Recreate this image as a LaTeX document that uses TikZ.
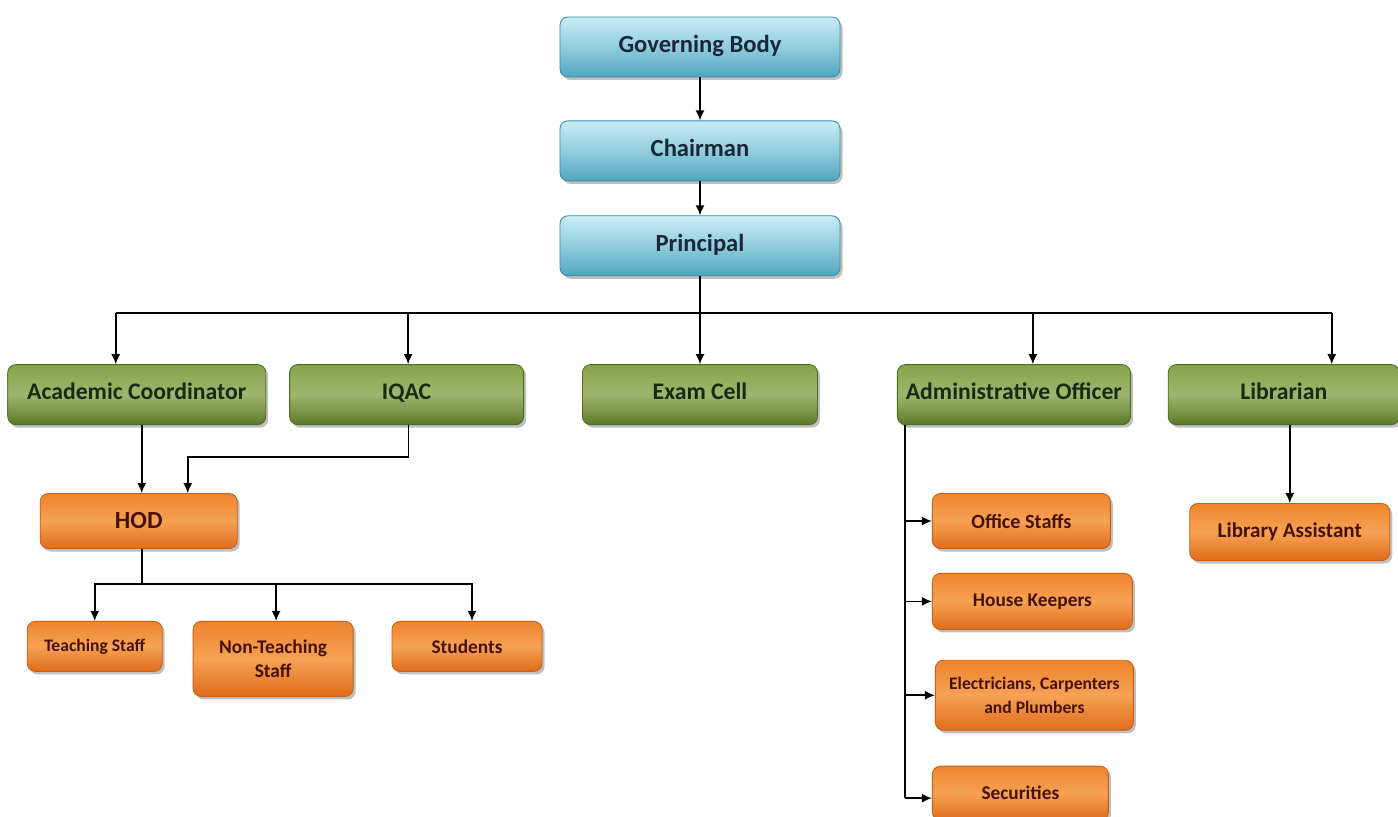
\documentclass[tikz,border=0pt]{standalone}
\usepackage{fontspec}
\setmainfont{Carlito}
\usetikzlibrary{positioning,arrows.meta,shadows}
\definecolor{bluetop}{RGB}{200,236,244}
\definecolor{bluebot}{RGB}{78,166,192}
\definecolor{blueline}{RGB}{60,140,168}
\definecolor{greentop}{RGB}{134,164,74}
\definecolor{greenbot}{RGB}{92,122,40}
\definecolor{greenline}{RGB}{80,108,36}
\definecolor{orangetop}{RGB}{238,132,46}
\definecolor{orangemid}{RGB}{246,162,84}
\definecolor{orangebot}{RGB}{222,108,26}
\definecolor{orangeline}{RGB}{200,96,24}
\definecolor{navytext}{RGB}{24,40,56}
\definecolor{greentext}{RGB}{28,40,16}
\definecolor{browntext}{RGB}{72,16,4}

\begin{document}
\begin{tikzpicture}[
    box/.style={rounded corners=0.16cm,inner sep=0pt,align=center,line width=0.5pt,
      drop shadow={shadow xshift=0.05cm,shadow yshift=-0.06cm,opacity=0.5}},
    bluebox/.style={box,draw=blueline,top color=bluetop,bottom color=bluebot,middle color=bluetop!55!bluebot,
      text=navytext,font=\fontsize{14}{16}\selectfont\bfseries,minimum width=5.6cm,minimum height=1.2cm,
      text height=9.5pt,text depth=3.5pt},
    greenbox/.style={box,draw=greenline,top color=greentop,bottom color=greenbot,middle color=greentop!80!white,
      text=greentext,font=\fontsize{13.5}{15}\selectfont\bfseries,minimum height=1.2cm,
      text height=9.5pt,text depth=3.5pt},
    orangebox/.style={box,draw=orangeline,top color=orangetop,bottom color=orangebot,middle color=orangemid,
      text=browntext,font=\fontsize{11}{14}\selectfont\bfseries},
    link/.style={-{Latex[length=2mm,width=1.8mm]},line width=0.9pt},
    wire/.style={line width=0.9pt}]
  \useasboundingbox (0,0) rectangle (27.96,-16.34);

  % top of the chart
  \node[bluebox] (govbody) at (14,-0.94) {Governing Body};
  \node[bluebox,below=0.86cm of govbody] (chairman) {Chairman};
  \node[bluebox,below=0.68cm of chairman] (principal) {Principal};

  % second row
  \node[greenbox,minimum width=4.7cm,below=1.76cm of principal] (exam) {Exam Cell};
  \node[greenbox,minimum width=4.68cm,left=1.16cm of exam] (iqac) {IQAC};
  \node[greenbox,minimum width=5.16cm,left=0.46cm of iqac] (acad) {Academic Coordinator};
  \node[greenbox,minimum width=4.66cm,right=1.58cm of exam] (admin) {Administrative Officer};
  \node[greenbox,minimum width=4.62cm,right=0.74cm of admin] (libr) {Librarian};

  % academic side
  \node[orangebox,font=\fontsize{14}{16}\selectfont\bfseries,minimum width=3.94cm,minimum height=1.1cm,
    below=1.36cm of acad,xshift=0.04cm] (hod) {HOD};
  \node[orangebox,font=\fontsize{10}{12}\selectfont\bfseries,minimum width=2.7cm,minimum height=1cm,
    below=1.44cm of hod,xshift=-0.88cm] (teach) {Teaching Staff};
  \node[orangebox,minimum width=3.2cm,minimum height=1.5cm,
    right=0.6cm of teach.north east,anchor=north west] (nonteach) {Non-Teaching\\Staff};
  \node[orangebox,minimum width=3cm,minimum height=1cm,
    right=0.76cm of nonteach.north east,anchor=north west] (students) {Students};

  % administrative side
  \node[orangebox,font=\fontsize{11.5}{14}\selectfont\bfseries,minimum width=3.56cm,minimum height=1.1cm,
    below=1.36cm of admin.south west,anchor=north west,xshift=0.7cm] (office) {Office Staffs};
  \node[orangebox,minimum width=4cm,minimum height=1.12cm,
    below=0.48cm of office.south west,anchor=north west] (house) {House Keepers};
  \node[orangebox,font=\fontsize{10}{14}\selectfont\bfseries,minimum width=3.96cm,minimum height=1.4cm,
    below=0.6cm of house.south west,anchor=north west,xshift=0.06cm] (elec) {Electricians, Carpenters\\and Plumbers};
  \node[orangebox,minimum width=3.52cm,minimum height=1.08cm,
    below=0.7cm of elec.south west,anchor=north west,xshift=-0.06cm] (secur) {Securities};

  % library side
  \node[orangebox,font=\fontsize{12}{14}\selectfont\bfseries,minimum width=4cm,minimum height=1.14cm,
    below=1.56cm of libr,xshift=0.12cm] (libasst) {Library Assistant};

  % connectors
  \draw[link] (govbody) -- (chairman);
  \draw[link] (chairman) -- (principal);
  \draw[wire] (principal.south) -- ++(0,-0.74) coordinate (bus);
  \coordinate (busleft) at ([xshift=-0.42cm]acad.north |- bus);
  \coordinate (busright) at ([xshift=0.96cm]libr.north |- bus);
  \coordinate (iqactop) at ([xshift=0.03cm]iqac.north);
  \draw[wire] (busleft) -- (busright);
  \draw[link] (bus) -- (exam);
  \draw[link] (busleft) -- (busleft |- acad.north);
  \draw[link] (iqactop |- bus) -- (iqactop);
  \draw[link] ([xshift=0.38cm]bus -| admin.north) -- ([xshift=0.38cm]admin.north);
  \draw[link] (busright) -- (busright |- libr.north);

  \draw[link] ([xshift=0.1cm]acad.south) -- ([xshift=0.1cm]acad.south |- hod.north);
  \draw[link] ([xshift=0.04cm]iqac.south) -- ++(0,-0.64) -| ([xshift=0.98cm]hod.north);
  \draw[wire] ([xshift=0.06cm]hod.south) -- ++(0,-0.7) coordinate (hbus);
  \draw[link] (hbus) -| (teach.north);
  \draw[link] (hbus) -| ([xshift=0.06cm]nonteach.north);
  \draw[link] (hbus) -| ([xshift=0.1cm]students.north);

  \coordinate (trunk) at ([xshift=0.16cm]admin.south west);
  \draw[wire] (trunk) -- ([yshift=-0.1cm]trunk |- secur.west);
  \draw[link] (trunk |- office.west) -- (office.west);
  \draw[link] (trunk |- house.west) -- (house.west);
  \draw[link] (trunk |- elec.west) -- (elec.west);
  \draw[link] ([yshift=-0.1cm]trunk |- secur.west) -- ([yshift=-0.1cm]secur.west);

  \draw[link] (libr.south -| libasst.north) -- (libasst.north);
\end{tikzpicture}
\end{document}
